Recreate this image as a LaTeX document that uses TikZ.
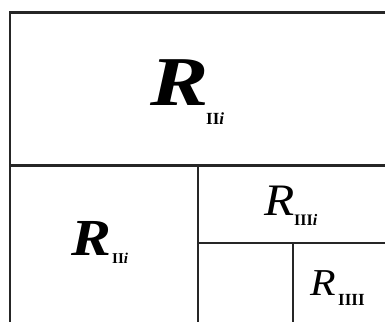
\documentclass[tikz,border=0pt]{standalone}
\usepackage{fontspec}
\setmainfont{Liberation Serif}
\begin{document}
\begin{tikzpicture}[x=1pt,y=-1pt]
\tikzset{
  frame/.style={draw=black!85, line width=2.2pt},
  lbl/.style={inner sep=0pt, anchor=base west}
}
\useasboundingbox (0,0) rectangle (385,321);
\fill[white] (0,0) rectangle (385,321);
% grid coordinates
\coordinate (tl) at (10,12.5);
\coordinate (tr) at (386,12.5);
\coordinate (bl) at (10,322);
\coordinate (ml) at (10,165.5);
\coordinate (mr) at (386,165.5);
\coordinate (v1t) at (198,165.5);
\coordinate (v1b) at (198,322);
\coordinate (h2l) at (198,243);
\coordinate (h2r) at (386,243);
\coordinate (v2t) at (293,243);
\coordinate (v2b) at (293,322);
% frame lines
\draw[frame] (tr) -- (tl) -- (bl);
\draw[frame] (ml) -- (mr);
\draw[frame] (v1t) -- (v1b);
\draw[frame] (h2l) -- (h2r);
\draw[frame] (v2t) -- (v2b);
% labels
\node[lbl] (r1) at (150,105) {\scalebox{1.25}[1]{\fontsize{70}{70}\selectfont\bfseries\itshape R}};
\node[lbl] (s1) at (206,124) {\fontsize{17}{17}\selectfont\bfseries II\textit{i}};
\node[lbl] (r2) at (71,255) {\scalebox{1.15}[1]{\fontsize{52}{52}\selectfont\bfseries\itshape R}};
\node[lbl] (s2) at (112,263) {\fontsize{15}{15}\selectfont\bfseries II\textit{i}};
\node[lbl] (r3) at (264,215) {\scalebox{1.1}[1]{\fontsize{45}{45}\selectfont\itshape R}};
\node[lbl] (s3) at (294,225) {\fontsize{16}{16}\selectfont\bfseries III\textit{i}};
\node[lbl] (r4) at (310,295) {\scalebox{1.1}[1]{\fontsize{38}{38}\selectfont\itshape R}};
\node[lbl] (s4) at (338,305) {\fontsize{17}{17}\selectfont\bfseries IIII};
\end{tikzpicture}
\end{document}
